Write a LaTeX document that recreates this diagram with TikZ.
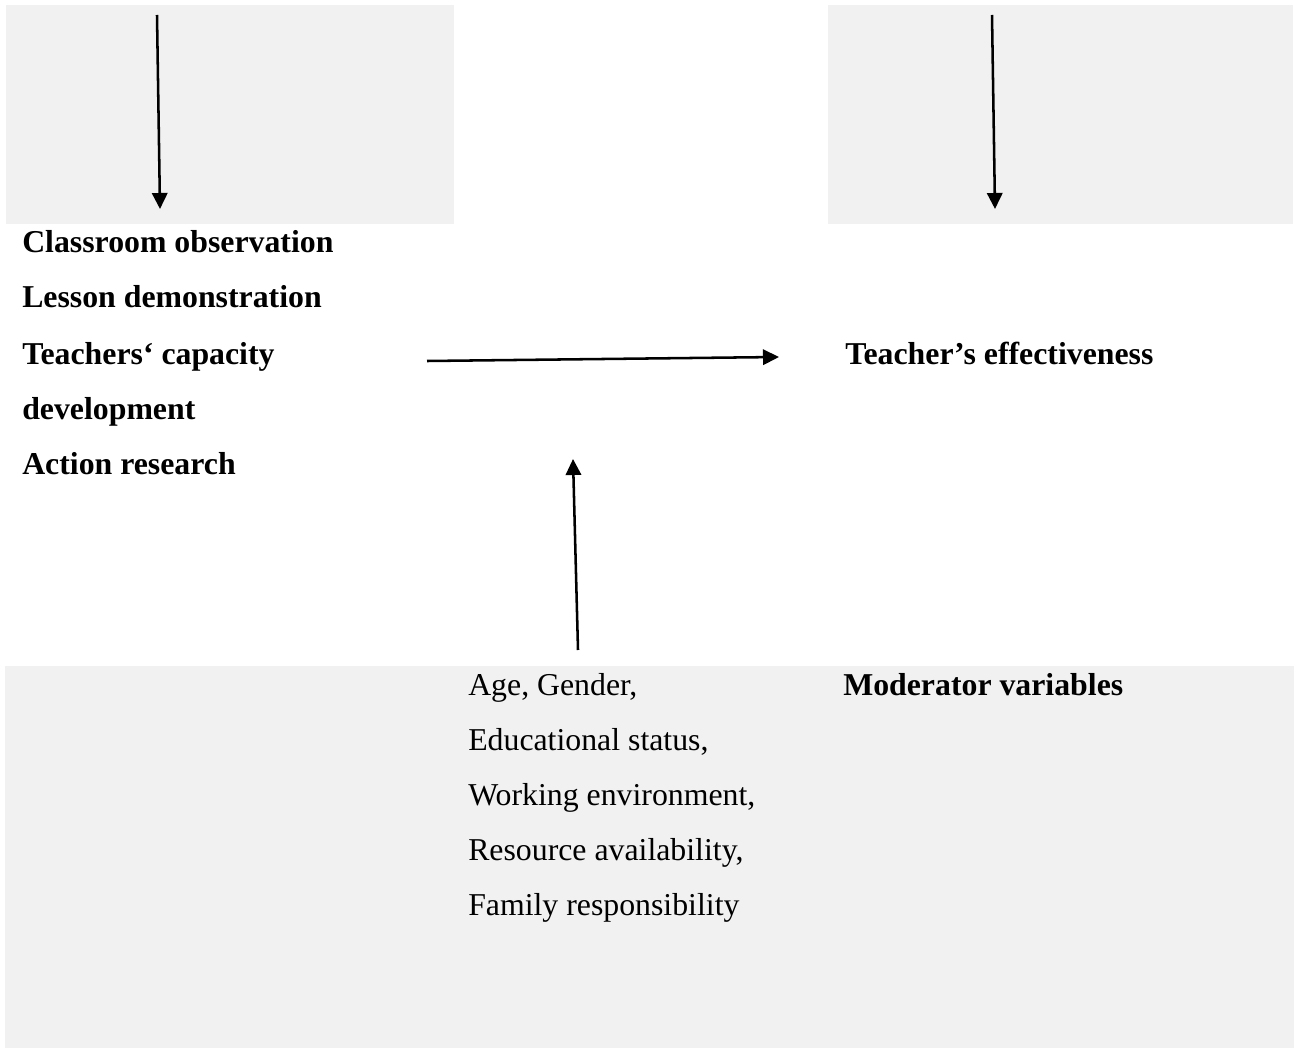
\documentclass[tikz,border=0pt]{standalone}
\usepackage{fontspec}
\setmainfont{Liberation Serif}
\usetikzlibrary{arrows.meta}
\definecolor{panelgrey}{HTML}{F1F1F1}
\tikzset{
  panel/.style={fill=panelgrey, draw=none},
  lbl/.style={inner sep=0pt, anchor=base west, font=\fontsize{23.85}{28}\selectfont},
  boldlbl/.style={lbl, font=\fontsize{23.85}{28}\selectfont\bfseries},
  conn/.style={line width=1.9pt, -{Triangle[length=12pt,width=11.5pt]}}
}
\begin{document}
\begin{tikzpicture}[x=0.75pt,y=-0.75pt]
\useasboundingbox (0,0) rectangle (1298,1048);
\fill[white] (0,0) rectangle (1298,1048);
% panels
\path[panel] (6,5) rectangle (454,224);
\path[panel] (828,5) rectangle (1293,224);
\path[panel] (5,666) rectangle (1294,1048);
% left column
\node[boldlbl] (c1) at (22,253) {Classroom observation};
\node[boldlbl] (c2) at (22,308) {Lesson demonstration};
\node[boldlbl] (c3) at (22,364) {Teachers‘ capacity};
\node[boldlbl] (c4) at (22,419) {development};
\node[boldlbl] (c5) at (22,474) {Action research};
% right
\node[boldlbl] (eff) at (845,364) {Teacher’s effectiveness};
\node[boldlbl] (mod) at (843,695) {Moderator variables};
% moderators
\node[lbl] (m1) at (468,695) {Age, Gender,};
\node[lbl] (m2) at (468,750) {Educational status,};
\node[lbl] (m3) at (468,805) {Working environment,};
\node[lbl] (m4) at (468,860) {Resource availability,};
\node[lbl] (m5) at (468,915) {Family responsibility};
% arrow end points
\coordinate (a1s) at (157,15);
\coordinate (a1e) at (160,209);
\coordinate (a2s) at (992,15);
\coordinate (a2e) at (995,209);
\coordinate (hs) at (427,361);
\coordinate (he) at (779,357);
\coordinate (us) at (578,650);
\coordinate (ue) at (573,459);
\draw[conn] (a1s) -- (a1e);
\draw[conn] (a2s) -- (a2e);
\draw[conn] (hs) -- (he);
\draw[conn] (us) -- (ue);
\end{tikzpicture}
\end{document}
